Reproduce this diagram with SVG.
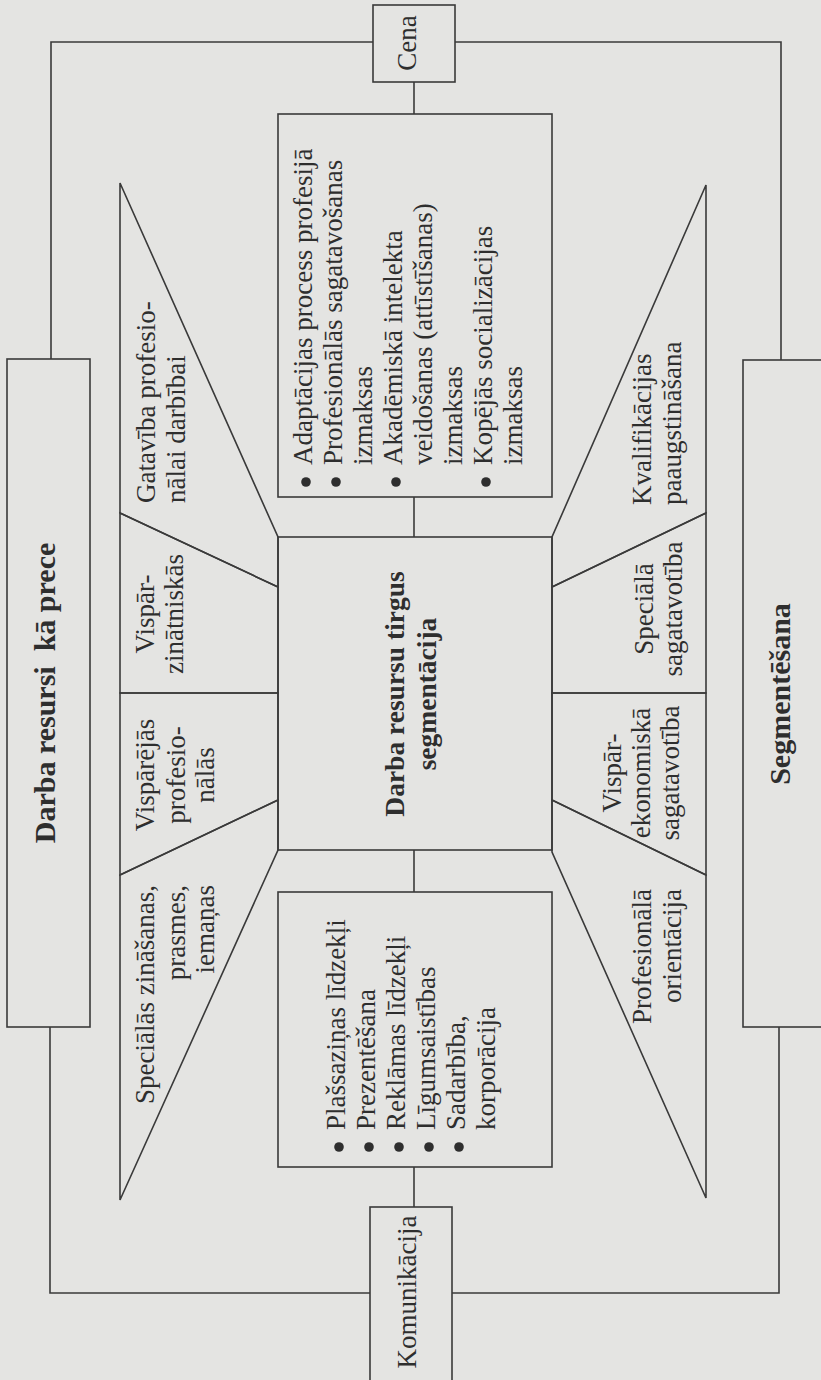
<svg xmlns="http://www.w3.org/2000/svg" width="821" height="1380" viewBox="0 0 821 1380">
  <style>
    .bg { fill: #e4e4e2; }
    .bx { fill: none; stroke: #3a3a3a; stroke-width: 1.6; }
    .ln { fill: none; stroke: #3a3a3a; stroke-width: 1.6; }
    .t { font-family: "Liberation Serif", "Times New Roman", serif; font-size: 27px; fill: #2e2e2e; }
    .b { font-weight: bold; font-size: 30px; }
    .c { font-weight: bold; font-size: 27.5px; }
    .m { text-anchor: middle; }
    .e { text-anchor: end; }
    .dot { fill: #2e2e2e; }
  </style>

  <rect class="bg" x="0" y="0" width="821" height="1380"/>

  <!-- frame and connector lines -->
  <g id="connectors">
    <path class="ln" d="M51,359 V42 H373"/>
    <path class="ln" d="M455,42 H781 V360"/>
    <path class="ln" d="M50,1027 V1293 H370"/>
    <path class="ln" d="M452,1293 H779 V1027"/>
    <path class="ln" d="M414,82 V114"/>
    <path class="ln" d="M414,497 V537"/>
    <path class="ln" d="M414,850 V892"/>
    <path class="ln" d="M414,1167 V1207"/>
  </g>

  <!-- price -->
  <g id="cena">
    <rect class="bx" x="373" y="5" width="82" height="77"/>
    <text class="t m" transform="translate(416,43) rotate(-90)">Cena</text>
  </g>

  <!-- communication -->
  <g id="komunikacija">
    <rect class="bx" x="370" y="1207" width="82" height="180"/>
    <text class="t m" transform="translate(416,1292) rotate(-90)">Komunikācija</text>
  </g>

  <!-- labour resources as a commodity -->
  <g id="darba-resursi-prece">
    <rect class="bx" x="7" y="359" width="83" height="668"/>
    <text class="t b m" transform="translate(55,693) rotate(-90)">Darba resursi&#160; kā prece</text>
  </g>

  <!-- segmentation -->
  <g id="segmentesana">
    <rect class="bx" x="743" y="360" width="90" height="667"/>
    <text class="t b m" transform="translate(790,694) rotate(-90)">Segmentēšana</text>
  </g>

  <!-- costs -->
  <g id="izmaksas">
    <rect class="bx" x="278" y="114" width="274" height="383"/>
    <circle class="dot" cx="306" cy="482" r="4.8"/>
    <circle class="dot" cx="336" cy="482" r="4.8"/>
    <circle class="dot" cx="396" cy="482" r="4.8"/>
    <circle class="dot" cx="486" cy="482" r="4.8"/>
    <text class="t" transform="translate(312,465) rotate(-90)">Adaptācijas process profesijā</text>
    <text class="t" transform="translate(342,465) rotate(-90)">Profesionālās sagatavošanas</text>
    <text class="t" transform="translate(372,465) rotate(-90)">izmaksas</text>
    <text class="t" transform="translate(402,465) rotate(-90)">Akadēmiskā intelekta</text>
    <text class="t" transform="translate(432,465) rotate(-90)">veidošanas (attīstīšanas)</text>
    <text class="t" transform="translate(462,465) rotate(-90)">izmaksas</text>
    <text class="t" transform="translate(492,465) rotate(-90)">Kopējās socializācijas</text>
    <text class="t" transform="translate(522,465) rotate(-90)">izmaksas</text>
  </g>

  <!-- labour market segmentation -->
  <g id="segmentacija">
    <rect class="bx" x="278" y="537" width="274" height="313"/>
    <text class="t c m" transform="translate(404,694) rotate(-90)">Darba resursu tirgus</text>
    <text class="t c m" transform="translate(436,694) rotate(-90)">segmentācija</text>
  </g>

  <!-- communication means -->
  <g id="lidzekli">
    <rect class="bx" x="278" y="892" width="274" height="275"/>
    <circle class="dot" cx="339" cy="1147" r="4.8"/>
    <circle class="dot" cx="369" cy="1147" r="4.8"/>
    <circle class="dot" cx="399" cy="1147" r="4.8"/>
    <circle class="dot" cx="429" cy="1147" r="4.8"/>
    <circle class="dot" cx="459" cy="1147" r="4.8"/>
    <text class="t" transform="translate(345,1130) rotate(-90)">Plašsaziņas līdzekļi</text>
    <text class="t" transform="translate(375,1130) rotate(-90)">Prezentēšana</text>
    <text class="t" transform="translate(405,1130) rotate(-90)">Reklāmas līdzekļi</text>
    <text class="t" transform="translate(435,1130) rotate(-90)">Līgumsaistības</text>
    <text class="t" transform="translate(465,1130) rotate(-90)">Sadarbība,</text>
    <text class="t" transform="translate(495,1130) rotate(-90)">korporācija</text>
  </g>

  <!-- left funnel: supply side -->
  <g id="gataviba">
    <polygon class="bx" points="120,183 278,537 278,587 120,513"/>
    <text class="t" transform="translate(155,503) rotate(-90)">Gatavība profesio-</text>
    <text class="t" transform="translate(185,503) rotate(-90)">nālai darbībai</text>
  </g>
  <g id="visparzinatniskas">
    <polygon class="bx" points="120,513 278,587 278,693 120,693"/>
    <text class="t m" transform="translate(154,614) rotate(-90)">Vispār-</text>
    <text class="t m" transform="translate(183,614) rotate(-90)">zinātniskās</text>
  </g>
  <g id="visparejas-profesionalas">
    <polygon class="bx" points="120,693 278,693 278,800 120,875"/>
    <text class="t m" transform="translate(154,775) rotate(-90)">Vispārējās</text>
    <text class="t m" transform="translate(185,775) rotate(-90)">profesio-</text>
    <text class="t m" transform="translate(214,775) rotate(-90)">nālās</text>
  </g>
  <g id="specialas-zinasanas">
    <polygon class="bx" points="120,875 278,800 278,850 120,1200"/>
    <text class="t e" transform="translate(154,885) rotate(-90)">Speciālās zināšanas,</text>
    <text class="t e" transform="translate(185,885) rotate(-90)">prasmes,</text>
    <text class="t e" transform="translate(214,885) rotate(-90)">iemaņas</text>
  </g>

  <!-- right funnel: preparation side -->
  <g id="kvalifikacija">
    <polygon class="bx" points="706,185 552,537 552,587 706,513"/>
    <text class="t" transform="translate(651,505) rotate(-90)">Kvalifikācijas</text>
    <text class="t" transform="translate(681,505) rotate(-90)">paaugstināšana</text>
  </g>
  <g id="speciala-sagatavotiba">
    <polygon class="bx" points="706,513 552,587 552,693 706,693"/>
    <text class="t m" transform="translate(653,609) rotate(-90)">Speciālā</text>
    <text class="t m" transform="translate(682,609) rotate(-90)">sagatavotība</text>
  </g>
  <g id="visparekonomiska">
    <polygon class="bx" points="706,693 552,693 552,800 706,875"/>
    <text class="t m" transform="translate(621,773) rotate(-90)">Vispār-</text>
    <text class="t m" transform="translate(650,773) rotate(-90)">ekonomiskā</text>
    <text class="t m" transform="translate(679,773) rotate(-90)">sagatavotība</text>
  </g>
  <g id="profesionala-orientacija">
    <polygon class="bx" points="706,875 552,800 552,852 706,1198"/>
    <text class="t e" transform="translate(651,889) rotate(-90)">Profesionālā</text>
    <text class="t e" transform="translate(681,889) rotate(-90)">orientācija</text>
  </g>
</svg>
